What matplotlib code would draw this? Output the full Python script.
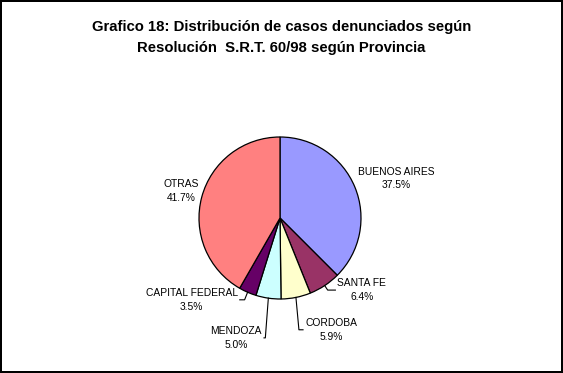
import matplotlib.pyplot as plt
import numpy as np

# datos
provincias = ['BUENOS AIRES', 'SANTA FE', 'CORDOBA', 'MENDOZA', 'CAPITAL FEDERAL', 'OTRAS']
porcentajes = [37.5, 6.4, 5.9, 5.0, 3.5, 41.7]
colores = ['#9999FF', '#993366', '#FFFFCC', '#CCFFFF', '#660066', '#FF8080']

# posicion de las etiquetas (centro del texto) en unidades del radio
pos_etiq = [(1.44, 0.49), (1.01, -0.89), (0.63, -1.38), (-0.54, -1.48), (-1.09, -1.01), (-1.22, 0.33)]
con_linea = [False, True, True, True, True, False]

plt.rcParams['font.family'] = ['Liberation Sans', 'DejaVu Sans']

fig = plt.figure(figsize=(5.63, 3.73), dpi=100, facecolor='white', edgecolor='black', linewidth=1.5)
ax = fig.add_axes([0, 0, 1, 1])

cx, cy, r = 280, 218, 81  # centro y radio en pixeles
wedges, _ = ax.pie(porcentajes, colors=colores, startangle=90, counterclock=False,
                   radius=1, wedgeprops={'edgecolor': 'black', 'linewidth': 0.9})
ax.set_xlim(-cx / r, (563 - cx) / r)
ax.set_ylim(-(373 - cy) / r, cy / r)
ax.set_aspect('auto')
ax.axis('off')

textos = []
for nombre, p, (tx, ty) in zip(provincias, porcentajes, pos_etiq):
    t = ax.text(tx, ty, '%s\n%.1f%%' % (nombre, p), ha='center', va='center',
                fontsize=7.4, linespacing=1.45)
    textos.append(t)

fig.canvas.draw()
rend = fig.canvas.get_renderer()
inv = ax.transData.inverted()
for w, t, (tx, ty), linea in zip(wedges, textos, pos_etiq, con_linea):
    if not linea:
        continue
    bb = t.get_window_extent(rend)
    (x1, _), (x2, _) = inv.transform([[bb.x0, bb.y0], [bb.x1, bb.y1]])
    ang = np.deg2rad((w.theta1 + w.theta2) / 2)
    x0, y0 = np.cos(ang), np.sin(ang)
    if tx > 0:
        xf = x1 - 2.0 / r
        xc = x0 + 3.0 / r
    else:
        xf = x2 + 2.0 / r
        xc = x0 - 3.0 / r
    ax.plot([x0, xc, xf], [y0, ty, ty], color='black', lw=0.8)

fig.text(0.5, 1 - 27 / 373, 'Grafico 18: Distribución de casos denunciados según',
         ha='center', va='center', fontsize=10.7, fontweight='bold')
fig.text(0.5, 1 - 48 / 373, 'Resolución  S.R.T. 60/98 según Provincia',
         ha='center', va='center', fontsize=10.7, fontweight='bold')

fig.savefig('out.png', dpi=100)
